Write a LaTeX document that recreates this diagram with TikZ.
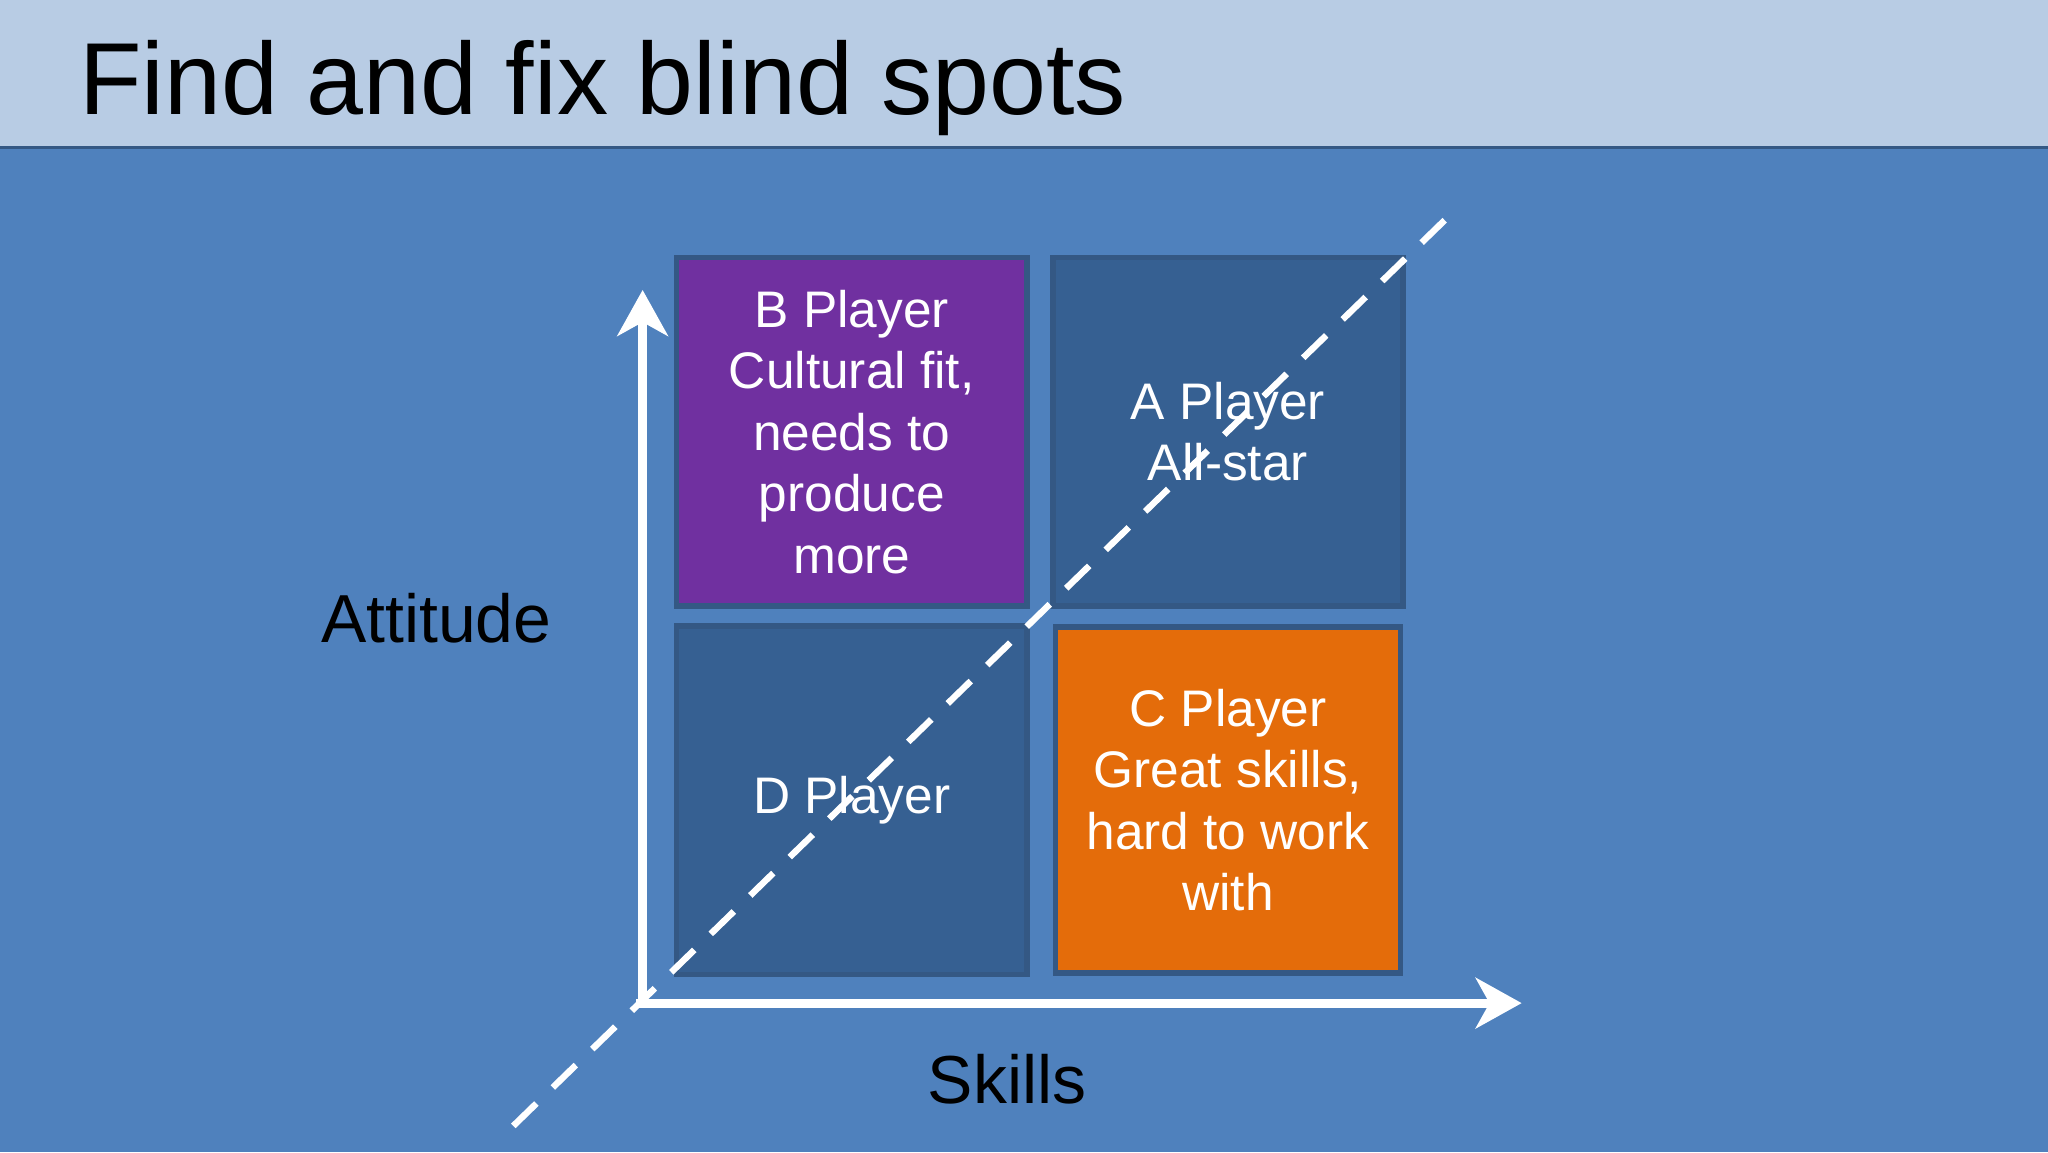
\documentclass[tikz,border=0pt]{standalone}
\usepackage{fontspec}
\setmainfont{Liberation Sans}
\usetikzlibrary{arrows.meta}
\definecolor{bg}{RGB}{79,129,189}
\definecolor{band}{RGB}{184,204,228}
\definecolor{dk}{RGB}{54,96,146}
\definecolor{edge}{RGB}{52,88,132}
\definecolor{purp}{RGB}{112,48,160}
\definecolor{orng}{RGB}{228,108,10}
\tikzset{
  quad/.style={draw=edge, line width=1.2pt, minimum width=2.68cm, minimum height=2.67cm, anchor=north west, text=white, align=center, font=\fontsize{11.2}{13.4}\selectfont, inner sep=0pt},
  axis/.style={white, line width=2pt, -{Stealth[length=10pt,width=11pt,inset=3pt]}},
  lbl/.style={font=\fontsize{14.8}{16}\selectfont, text=black}
}
\begin{document}
\begin{tikzpicture}[x=1cm,y=1cm]
\useasboundingbox (0,0) rectangle (15.68,8.82);
\fill[bg] (0,0) rectangle (15.68,8.82);
\fill[band] (0,7.69) rectangle (15.68,8.82);
\draw[edge, line width=0.6pt] (0,7.69) -- (15.68,7.69);
\node[anchor=base west, font=\fontsize{22.3}{26}\selectfont, inner sep=0pt] (title) at (0.6,7.94) {Find and fix blind spots};
\node[quad, fill=purp] (b) at (5.16,6.87) {B Player\\Cultural fit,\\needs to\\produce\\more};
\node[quad, fill=dk] (a) at (8.04,6.87) {A Player\\All-star};
\node[quad, fill=dk] (d) at (5.16,4.05) {D Player};
\node[quad, fill=orng, minimum width=2.64cm, minimum height=2.65cm] (c) at (8.06,4.04) {C Player\\Great skills,\\hard to work\\with};
\coordinate (o) at (4.92,1.14);
\coordinate (ytip) at (4.92,6.60);
\coordinate (xtip) at (11.65,1.14);
\draw[axis] ([yshift=-0.04cm]o) -- (ytip);
\draw[axis] ([xshift=-0.05cm]o) -- (xtip);
\coordinate (d1) at (3.93,0.20);
\coordinate (d2) at (11.18,7.25);
\draw[white, line width=1.4pt, dash pattern=on 7pt off 5pt] (d1) -- (d2);
\node[lbl] (att) at (3.34,4.09) {Attitude};
\node[lbl] (sk) at (7.71,0.56) {Skills};
\end{tikzpicture}
\end{document}
